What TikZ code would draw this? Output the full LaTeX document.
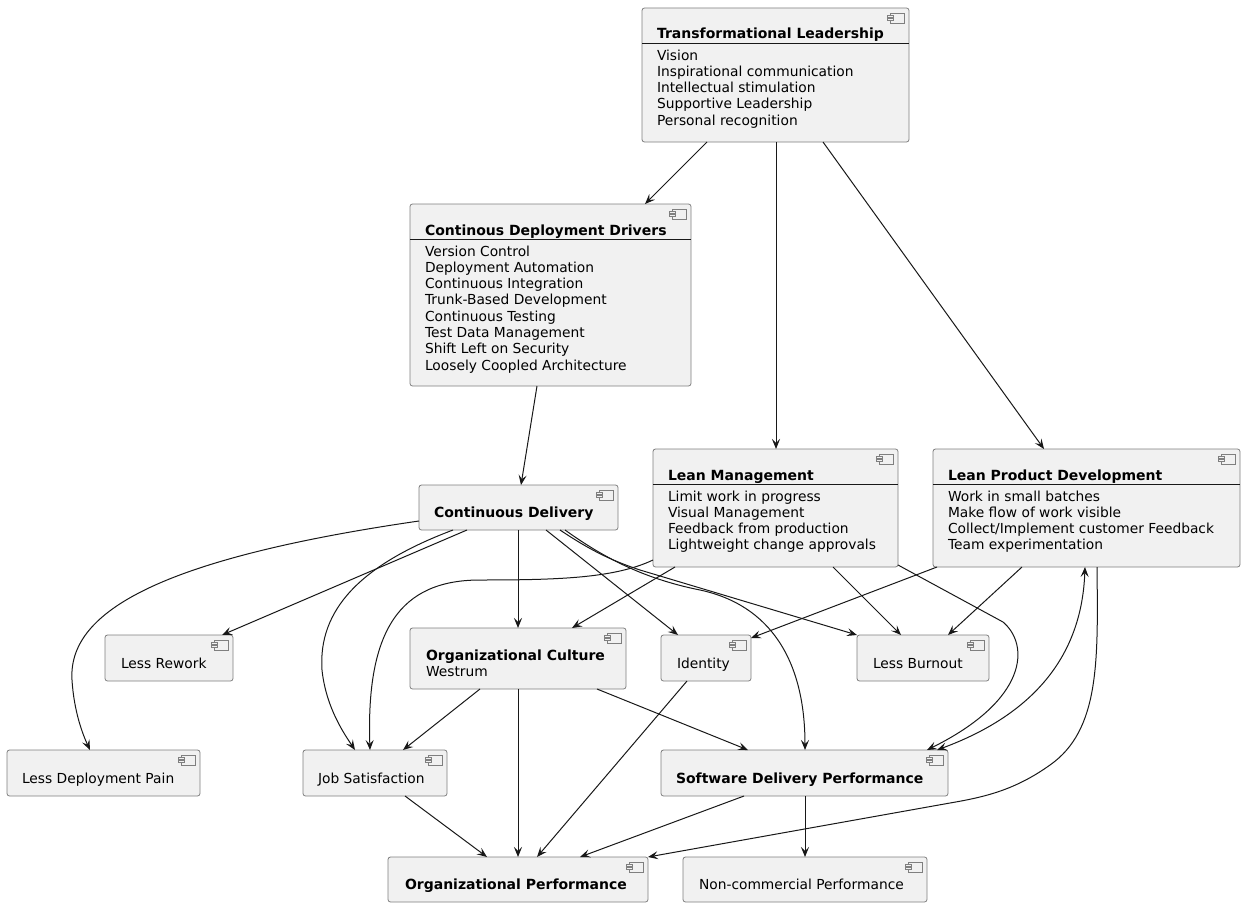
\documentclass[tikz,border=0pt]{standalone}
\usepackage{fontspec}
\setmainfont{DejaVu Sans}
\usetikzlibrary{arrows.meta,fit}
\definecolor{boxfill}{HTML}{F1F1F1}
\definecolor{ink}{HTML}{181818}
\definecolor{boxline}{HTML}{7F7F7F}
\tikzset{
  comp/.style={draw=boxline, line width=0.8pt, fill=boxfill, rounded corners=2.5pt, inner sep=0pt, outer sep=0pt},
  txt/.style={anchor=base west, inner sep=0pt, outer sep=0pt, font=\fontsize{13.8pt}{16pt}\selectfont, text=black},
  boldtxt/.style={txt, font=\fontsize{14pt}{16pt}\selectfont\bfseries},
  conn/.style={draw=ink, line width=1pt, -{Stealth[length=10pt,width=8pt,inset=4pt]}},
  bothconn/.style={draw=ink, line width=1pt, {Stealth[length=10pt,width=8pt,inset=4pt]}-{Stealth[length=10pt,width=8pt,inset=4pt]}},
  sepline/.style={draw=ink, line width=1pt},
  iconbox/.style={draw=boxline, line width=0.8pt, fill=boxfill},
}
\newcommand\compicon[1]{%
  \draw[iconbox] ([shift={(-19,5)}]#1.north east) rectangle ++(14,10);
  \draw[iconbox] ([shift={(-22,7.5)}]#1.north east) rectangle ++(6,2);
  \draw[iconbox] ([shift={(-22,10.5)}]#1.north east) rectangle ++(6,2);
}
\begin{document}
\begin{tikzpicture}[x=1pt,y=-1pt]
\useasboundingbox (0,0) rectangle (1245,907);

% ---------- boxes ----------
\node[comp, fit={(642,8) (909,142)}] (tl) {};
\node[comp, fit={(410,204) (691,386)}] (cdd) {};
\node[comp, fit={(653,449) (898,567)}] (lm) {};
\node[comp, fit={(933,449) (1240,567)}] (lpd) {};
\node[comp, fit={(419,485) (618,530)}] (cd) {};
\node[comp, fit={(105,635) (233,681)}] (lr) {};
\node[comp, fit={(410,628) (626,689)}] (oc) {};
\node[comp, fit={(661,635) (751,681)}] (id) {};
\node[comp, fit={(857,635) (989,681)}] (lb) {};
\node[comp, fit={(7,750) (200,796)}] (ldp) {};
\node[comp, fit={(303,750) (447,796)}] (js) {};
\node[comp, fit={(661,750) (948,796)}] (sdp) {};
\node[comp, fit={(388,857) (648,902)}] (op) {};
\node[comp, fit={(683,857) (927,902)}] (ncp) {};

\foreach \n in {tl,cdd,lm,lpd,cd,lr,oc,id,lb,ldp,js,sdp,op,ncp} {\compicon{\n}}

% ---------- separators ----------
\draw[sepline] (tl.west |- 0,43.3) -- (tl.east |- 0,43.3);
\draw[sepline] (cdd.west |- 0,239.3) -- (cdd.east |- 0,239.3);
\draw[sepline] (lm.west |- 0,484) -- (lm.east |- 0,484);
\draw[sepline] (lpd.west |- 0,484) -- (lpd.east |- 0,484);

% ---------- texts ----------
\node[boldtxt] (tl-t) at (657,39) {Transformational Leadership};
\foreach \t [count=\i from 0] in {Vision,Inspirational communication,Intellectual stimulation,Supportive Leadership,Personal recognition}
  \node[txt] (tl-\i) at (657,60+16.3*\i) {\t};

\node[boldtxt] (cdd-t) at (425,235.5) {Continous Deployment Drivers};
\foreach \t [count=\i from 0] in {Version Control,Deployment Automation,Continuous Integration,Trunk-Based Development,Continuous Testing,Test Data Management,Shift Left on Security,Loosely Coopled Architecture}
  \node[txt] (cdd-\i) at (425,256+16.3*\i) {\t};

\node[boldtxt] (lm-t) at (668,480.5) {Lean Management};
\foreach \t [count=\i from 0] in {Limit work in progress,Visual Management,Feedback from production,Lightweight change approvals}
  \node[txt] (lm-\i) at (668,501+16.3*\i) {\t};

\node[boldtxt] (lpd-t) at (948,480.5) {Lean Product Development};
\foreach \t [count=\i from 0] in {Work in small batches,Make flow of work visible,Collect/Implement customer Feedback,Team experimentation}
  \node[txt] (lpd-\i) at (948,501+16.3*\i) {\t};

\node[boldtxt] (cd-t) at (434,517.5) {Continuous Delivery};
\node[txt] (lr-t) at (121,668) {Less Rework};
\node[boldtxt] (oc-t) at (426,660) {Organizational Culture};
\node[txt] (oc-w) at (426,676.3) {Westrum};
\node[txt] (id-t) at (677,668) {Identity};
\node[txt] (lb-t) at (873,668) {Less Burnout};
\node[txt] (ldp-t) at (22,783) {Less Deployment Pain};
\node[txt] (js-t) at (318,783) {Job Satisfaction};
\node[boldtxt] (sdp-t) at (676,783) {Software Delivery Performance};
\node[boldtxt] (op-t) at (405,889) {Organizational Performance};
\node[txt] (ncp-t) at (699,889) {Non-commercial Performance};

% ---------- connectors ----------
\draw[conn] (707,0 |- tl.south) -- (645,0 |- cdd.north);
\draw[conn] (776,0 |- tl.south) -- (776,0 |- lm.north);
\draw[conn] (823,0 |- tl.south) -- (1044,0 |- lpd.north);
\draw[conn] (537,0 |- cdd.south) -- (521,0 |- cd.north);

% Continuous Delivery out
\draw[conn] (cd.west |- 0,521) .. controls (150,560) and (68,615) .. (72,680)
  .. controls (74,712) and (83,735) .. (90,0 |- ldp.north);
\draw[conn] (467,0 |- cd.south) -- (222,0 |- lr.north);
\draw[conn] (453,0 |- cd.south) .. controls (360,565) and (318,610) .. (322,670)
  .. controls (326,708) and (345,735) .. (355,0 |- js.north);
\draw[conn] (518,0 |- cd.south) -- (518,0 |- oc.north);
\draw[conn] (546,0 |- cd.south) -- (678,0 |- id.north);
\draw[conn] (560,0 |- cd.south) .. controls (590,550) and (610,560) .. (640,570) -- (857,0 |- lb.north);
\draw[conn] (565,0 |- cd.south) .. controls (600,555) and (640,578) .. (700,590)
  .. controls (770,605) and (805,660) .. (805,0 |- sdp.north);

% Lean Management out
\draw[conn] (lm.west |- 0,560) .. controls (615,578) and (560,580) .. (480,580)
  .. controls (400,580) and (366,630) .. (370,0 |- js.north);
\draw[conn] (675,0 |- lm.south) -- (572,0 |- oc.north);
\draw[conn] (833,0 |- lm.south) -- (901,0 |- lb.north);
\draw[conn] (lm.east |- 0,565) -- (1003,622) .. controls (1030,645) and (1028,700) .. (927,0 |- sdp.north);

% Lean Product Development out
\draw[conn] (937,0 |- lpd.south) -- (id.east |- 0,638);
\draw[conn] (1022,0 |- lpd.south) -- (948,0 |- lb.north);
\draw[bothconn] (937,0 |- sdp.north) .. controls (1040,712) and (1082,650) .. (1085,0 |- lpd.south);
\draw[conn] (1097,0 |- lpd.south) .. controls (1098,660) and (1100,730) .. (1050,765)
  .. controls (1015,790) and (985,797) .. (950,803) -- (op.north east);

% Organizational Culture out
\draw[conn] (480,0 |- oc.south) -- (403,0 |- js.north);
\draw[conn] (518,0 |- oc.south) -- (518,0 |- op.north);
\draw[conn] (597,0 |- oc.south) -- (748,0 |- sdp.north);

% to Organizational Performance
\draw[conn] (687,0 |- id.south) -- (537,0 |- op.north);
\draw[conn] (405,0 |- js.south) -- (487,0 |- op.north);
\draw[conn] (744,0 |- sdp.south) -- (580,0 |- op.north);
\draw[conn] (805,0 |- sdp.south) -- (805,0 |- ncp.north);
\end{tikzpicture}
\end{document}
